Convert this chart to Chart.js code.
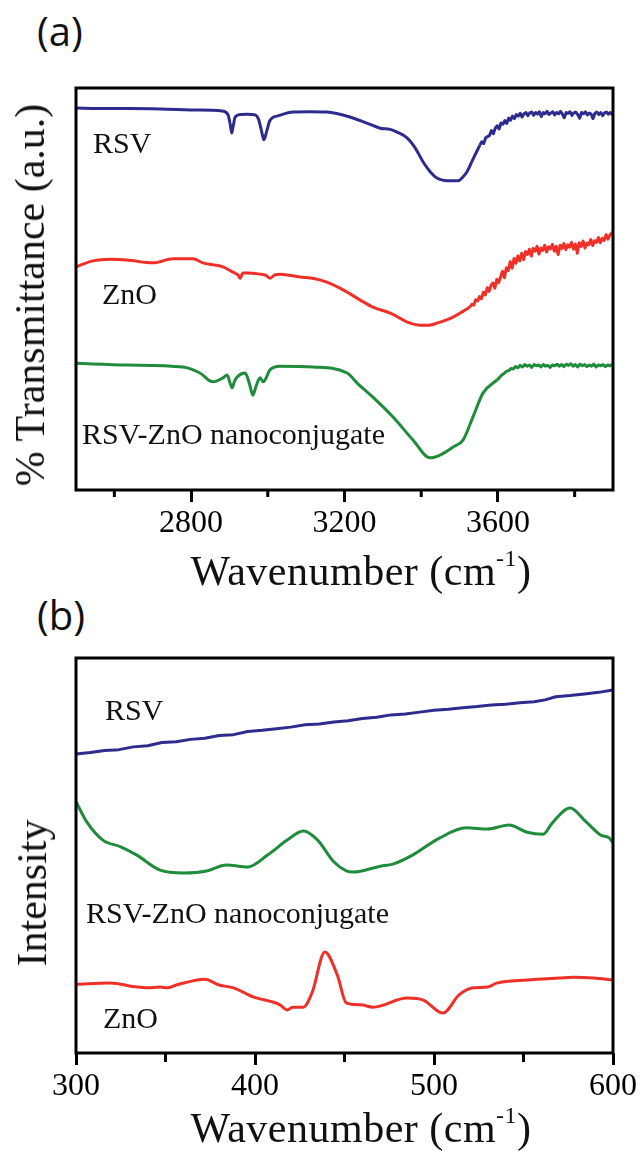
<!DOCTYPE html>
<html>
<head>
<meta charset="utf-8">
<script src="https://cdn.jsdelivr.net/npm/chart.js@4"></script>
<style>
  body { margin: 0; background: #fff; width: 642px; height: 1151px; position: relative; overflow: hidden;
         font-family: 'Liberation Serif', Tinos, serif; color: #111; }
  canvas { position: absolute; left: 0; }
  .lbl { position: absolute; font-size: 30px; line-height: 1; white-space: nowrap; }
  .panel { position: absolute; left: 37px; font-family: 'Open Sans', sans-serif; font-size: 40px; line-height: 1; }
  .xt { position: absolute; left: 361px; transform: translateX(-50%); font-size: 42px; line-height: 1;
        white-space: nowrap; letter-spacing: 0.5px; }
  .xt sup { font-size: 24px; position: relative; top: -4px; vertical-align: top; }
  .yt { position: absolute; font-size: 42px; line-height: 1; white-space: nowrap;
        transform: translate(-50%, -50%) rotate(-90deg); }
</style>
</head>
<body>
<div class="panel" style="top:11px">(a)</div>
<div class="panel" style="top:595px">(b)</div>

<canvas id="ftir" width="642" height="600" style="top:0"></canvas>
<canvas id="raman" width="642" height="551" style="top:600px"></canvas>

<div class="lbl" style="left:93px;top:128px">RSV</div>
<div class="lbl" style="left:102px;top:279px">ZnO</div>
<div class="lbl" style="left:82px;top:419px">RSV-ZnO nanoconjugate</div>
<div class="lbl" style="left:105px;top:695px">RSV</div>
<div class="lbl" style="left:86px;top:898px">RSV-ZnO nanoconjugate</div>
<div class="lbl" style="left:103px;top:1003px">ZnO</div>

<div class="yt" style="left:30px;top:295px">% Transmittance (a.u.)</div>
<div class="yt" style="left:32px;top:893px">Intensity</div>
<div class="xt" style="top:550px">Wavenumber (cm<sup>-1</sup>)</div>
<div class="xt" style="top:1107px">Wavenumber (cm<sup>-1</sup>)</div>

<script>
// FTIR (a): [wavenumber, transmittance a.u.]; smooth part and noisy tail kept apart
const ftirRsv = [
  [2500,95.0],[2560,94.9],[2641,94.9],[2719,94.8],[2823,94.5],[2881,94.3],[2896,93.4],[2902,91.0],
  [2906,88.8],[2910,90.6],[2915,92.8],[2930,93.4],[2946,93.5],[2967,93.3],[2976,92.2],[2983,89.6],
  [2990,87.1],[2997,89.2],[3005,91.8],[3014,92.7],[3024,93.0],[3066,94.0],[3110,94.1],[3154,94.0],
  [3214,92.8],[3260,91.2],[3293,90.0],[3319,89.7],[3340,88.9],[3363,87.6],[3385,85.0],[3405,81.6],
  [3425,79.0],[3441,77.6],[3460,77.0],[3475,76.9],[3496,76.9],[3508,77.8],[3519,79.1],[3536,82.5],
  [3553,85.8]
];
const ftirRsvNoise = [
  [3553,85.8],[3558,86.6],[3563,86.2],[3568,87.6],[3573,87.9],[3578,88.2],[3583,89.4],[3588,88.6],
  [3593,90.0],[3598,90.6],[3603,89.8],[3608,91.3],[3613,91.0],[3618,91.9],[3623,91.2],[3628,92.5],
  [3633,92.0],[3638,93.0],[3643,92.4],[3648,93.4],[3653,93.0],[3658,93.7],[3663,92.8],[3668,93.6],
  [3673,93.9],[3678,93.1],[3683,93.8],[3688,94.0],[3693,93.2],[3698,93.9],[3703,93.5],[3708,94.1],
  [3713,92.9],[3718,93.9],[3723,93.6],[3728,94.2],[3733,93.4],[3738,93.8],[3743,94.1],[3748,93.3],
  [3753,93.9],[3758,93.6],[3763,94.2],[3768,93.5],[3773,92.6],[3778,93.9],[3783,93.7],[3788,94.1],
  [3793,93.2],[3798,93.8],[3803,94.0],[3808,93.4],[3813,92.5],[3818,93.9],[3823,93.6],[3828,94.1],
  [3833,93.3],[3838,93.8],[3843,93.5],[3848,92.4],[3853,93.7],[3858,94.0],[3863,93.4],[3868,93.9],
  [3873,93.1],[3878,93.8],[3883,94.0],[3888,93.5],[3893,93.9],[3898,93.4],[3900,93.8]
];
const ftirZnO = [
  [2500,55.5],[2544,57.0],[2590,57.4],[2633,57.2],[2701,56.5],[2753,57.5],[2805,57.5],[2831,56.5],
  [2860,56.0],[2883,55.5],[2909,54.2],[2922,53.5],[2928,52.7],[2935,54.0],[2946,54.0],[2980,53.7],
  [2995,53.4],[3006,52.7],[3018,53.5],[3032,53.7],[3084,53.0],[3120,52.6],[3154,51.7],[3200,49.6],
  [3240,47.3],[3274,45.5],[3319,44.0],[3371,41.5],[3397,41.0],[3420,41.0],[3441,41.5],[3483,43.0],
  [3510,44.5],[3527,45.5]
];
const ftirZnONoise = [
  [3527,45.5],[3532,46.2],[3537,46.0],[3542,47.3],[3547,47.0],[3552,48.1],[3557,47.6],[3562,49.2],
  [3567,48.5],[3572,50.3],[3577,49.4],[3582,50.9],[3587,51.5],[3592,50.2],[3597,52.4],[3602,51.6],
  [3607,53.0],[3612,54.4],[3617,52.8],[3622,55.3],[3627,54.6],[3632,56.8],[3637,55.2],[3642,57.6],
  [3647,56.4],[3652,58.2],[3657,57.0],[3662,58.9],[3667,57.3],[3672,59.3],[3677,58.6],[3682,59.9],
  [3687,58.2],[3692,60.1],[3697,59.4],[3702,60.6],[3707,58.7],[3712,60.2],[3717,59.6],[3722,60.9],
  [3727,59.2],[3732,60.5],[3737,60.0],[3742,61.1],[3747,59.4],[3752,60.6],[3757,58.6],[3762,60.9],
  [3767,60.1],[3772,61.3],[3777,59.8],[3782,61.0],[3787,60.4],[3792,61.6],[3797,59.9],[3802,61.2],
  [3807,58.9],[3812,61.5],[3817,60.6],[3822,61.9],[3827,60.2],[3832,61.4],[3837,61.0],[3842,62.3],
  [3847,60.8],[3852,62.0],[3857,61.6],[3862,62.8],[3867,61.5],[3872,62.6],[3877,62.1],[3882,63.5],
  [3887,62.4],[3892,63.4],[3897,63.9],[3900,64.2]
];
const ftirConj = [
  [2500,31.5],[2633,31.1],[2779,30.6],[2823,29.1],[2857,26.9],[2883,27.9],[2894,28.6],[2902,26.5],
  [2907,25.4],[2913,27.0],[2920,28.1],[2941,29.1],[2952,26.5],[2961,23.6],[2970,26.0],[2980,27.9],
  [2988,26.9],[3006,29.9],[3032,30.8],[3118,30.6],[3207,29.1],[3233,26.6],[3274,23.1],[3326,18.2],
  [3379,12.4],[3423,8.0],[3449,8.7],[3483,10.7],[3509,12.4],[3535,18.2],[3561,24.1],[3598,27.4]
];
const ftirConjNoise = [
  [3598,27.4],[3604,28.0],[3610,28.6],[3616,29.0],[3622,29.5],[3628,29.7],[3634,30.2],[3640,30.1],
  [3646,30.7],[3652,30.4],[3658,31.0],[3664,30.6],[3670,31.2],[3676,30.8],[3682,31.1],[3688,30.5],
  [3694,31.2],[3700,30.9],[3706,31.1],[3712,30.6],[3718,31.2],[3724,30.8],[3730,31.0],[3736,30.5],
  [3742,31.1],[3748,30.9],[3754,31.3],[3760,30.8],[3766,31.2],[3772,30.7],[3778,31.3],[3784,31.0],
  [3790,31.4],[3796,30.8],[3802,31.2],[3808,30.6],[3814,31.3],[3820,30.9],[3826,31.2],[3832,30.7],
  [3838,31.1],[3844,30.8],[3850,31.3],[3856,30.6],[3862,31.1],[3868,30.9],[3874,31.2],[3880,30.7],
  [3886,31.1],[3892,30.9],[3898,31.2],[3900,31.0]
];
const ftirMajorTicks = [2800, 3200, 3600];
const ftirMinorTicks = [2600, 3000, 3400, 3800];

// Raman (b): [wavenumber, intensity a.u.]
const ramanRsv = [
  [300,75.7],[308,76.1],[316,76.6],[324,76.8],[332,77.5],[340,77.8],[348,78.6],[356,78.8],
  [364,79.4],[372,79.7],[380,80.4],[388,80.6],[396,81.4],[404,81.7],[412,82.1],[420,82.5],
  [428,83.1],[436,83.3],[444,83.8],[452,84.1],[460,84.7],[468,85.0],[476,85.6],[484,85.8],
  [492,86.3],[500,86.8],[508,87.0],[516,87.4],[524,87.7],[532,88.1],[540,88.3],[548,88.7],
  [556,88.9],[562,89.4],[568,90.2],[576,90.5],[584,90.9],[592,91.3],[600,91.9]
];
const ramanConj = [
  [300,63.6],[306,58.5],[315,53.9],[325,52.2],[334,50.1],[347,46.3],[360,45.6],[373,46.1],
  [384,47.6],[396,47.1],[407,50.1],[418,53.9],[427,56.2],[435,53.9],[444,48.4],[451,46.1],
  [455,45.8],[470,47.3],[477,47.8],[488,50.1],[503,54.4],[518,57.0],[530,56.7],[542,57.7],
  [552,55.9],[561,55.4],[566,58.2],[576,62.0],[585,58.5],[593,55.2],[598,54.4],[600,53.2]
];
const ramanZnO = [
  [300,17.4],[319,17.7],[334,16.7],[340,16.5],[347,16.7],[351,16.5],[356,17.2],[372,18.7],
  [380,17.2],[388,16.5],[399,14.2],[414,12.2],[418,10.9],[421,11.6],[427,11.6],[432,15.4],
  [439,25.6],[446,19.7],[451,12.7],[459,12.2],[466,11.6],[485,13.9],[494,13.4],[505,10.1],
  [514,14.7],[522,16.5],[530,16.7],[535,17.7],[552,18.5],[570,19.0],[578,19.2],[589,19.0],[600,18.5]
];
const ramanMajorTicks = [300, 400, 500, 600];
const ramanMinorTicks = [350, 450, 550];

const BLUE = '#2d2c8e', RED = '#ee3028', GREEN = '#1f8c3b';
const SERIF = "'Liberation Serif', Tinos, serif";

// box around the plot + short minor ticks under the x axis
const framePlugin = {
  id: 'frame',
  afterDraw(chart, args, opts) {
    const { ctx, chartArea: a } = chart;
    const x = chart.scales.x;
    ctx.save();
    ctx.strokeStyle = '#000';
    ctx.lineWidth = 3;
    ctx.strokeRect(a.left, a.top, a.right - a.left, a.bottom - a.top);
    opts.minor.forEach(v => {
      const px = x.getPixelForValue(v);
      ctx.beginPath();
      ctx.moveTo(px, a.bottom);
      ctx.lineTo(px, a.bottom + opts.len);
      ctx.stroke();
    });
    ctx.restore();
  }
};

function line(data, color, smooth = true) {
  return {
    data: data.map(([x, y]) => ({ x, y })),
    borderColor: color,
    borderWidth: 3,
    pointRadius: 0,
    cubicInterpolationMode: smooth ? 'monotone' : 'default',
    tension: 0,
    borderJoinStyle: 'round',
    fill: false,
  };
}

function makeChart(id, series, xMin, xMax, majors, minors, padTop, axisH, minorLen) {
  return new Chart(document.getElementById(id), {
    type: 'line',
    data: { datasets: series },
    plugins: [framePlugin],
    options: {
      responsive: false,
      animation: false,
      layout: { padding: { left: 76, right: 29, top: padTop, bottom: 0 } },
      plugins: { legend: { display: false }, tooltip: { enabled: false },
                 frame: { minor: minors, len: minorLen } },
      scales: {
        x: {
          type: 'linear', min: xMin, max: xMax,
          afterBuildTicks: s => { s.ticks = majors.map(v => ({ value: v })); },
          afterFit: s => { s.height = axisH; },
          border: { display: false },
          grid: { drawOnChartArea: false, tickLength: 12, tickWidth: 3, tickColor: '#000' },
          ticks: { font: { family: SERIF, size: 32 }, color: '#000', padding: 2,
                   maxRotation: 0, autoSkip: false, callback: v => String(v) }
        },
        y: { min: 0, max: 100, display: false }
      }
    }
  });
}

makeChart('ftir', [
    line(ftirRsv, BLUE), line(ftirRsvNoise, BLUE, false),
    line(ftirZnO, RED), line(ftirZnONoise, RED, false),
    line(ftirConj, GREEN), line(ftirConjNoise, GREEN, false)
  ], 2500, 3900, ftirMajorTicks, ftirMinorTicks, 88, 110, 7);
makeChart('raman', [line(ramanRsv, BLUE, false), line(ramanConj, GREEN), line(ramanZnO, RED)],
  300, 600, ramanMajorTicks, ramanMinorTicks, 58, 98, 9);
</script>
</body>
</html>
